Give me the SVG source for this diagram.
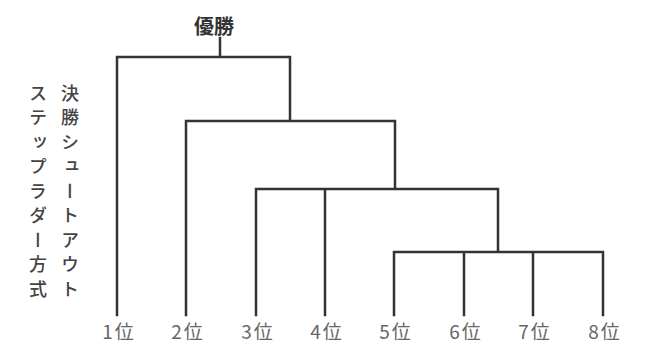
<svg xmlns="http://www.w3.org/2000/svg" width="652" height="360" viewBox="0 0 652 360">
<style>
.ln{fill:none;stroke:#333;stroke-width:2.5;stroke-linecap:square}
.lb{font-family:"Noto Sans CJK JP",sans-serif;font-size:19px;fill:#666;text-anchor:middle;letter-spacing:2px}
.vt{font-family:"Noto Sans CJK JP",sans-serif;font-size:18px;font-weight:500;fill:#444;writing-mode:vertical-rl;letter-spacing:6.5px}
.ttl{font-family:"Noto Sans CJK JP",sans-serif;font-size:20px;font-weight:bold;fill:#333;text-anchor:middle}
</style>
<rect width="652" height="360" fill="#fff"/>
<g id="connectors">
<path class="ln" d="M220,38V57M117,315V57H290V121M186,315V121H395V189M256,315V189H498V252M325,315V189M394,315V252H603V315M464,315V252M533,315V252"/>
</g>
<g id="champion"><text class="ttl" x="214" y="34">優勝</text></g>
<g id="rank1"><text class="lb" x="119" y="339">1位</text></g>
<g id="rank2"><text class="lb" x="188" y="339">2位</text></g>
<g id="rank3"><text class="lb" x="258" y="339">3位</text></g>
<g id="rank4"><text class="lb" x="327" y="339">4位</text></g>
<g id="rank5"><text class="lb" x="396" y="339">5位</text></g>
<g id="rank6"><text class="lb" x="466" y="339">6位</text></g>
<g id="rank7"><text class="lb" x="535" y="339">7位</text></g>
<g id="rank8"><text class="lb" x="605" y="339">8位</text></g>
<g id="caption">
<text class="vt" x="38" y="84">ステップラダー方式</text>
<text class="vt" x="70" y="84">決勝シュートアウト</text>
</g>
</svg>
